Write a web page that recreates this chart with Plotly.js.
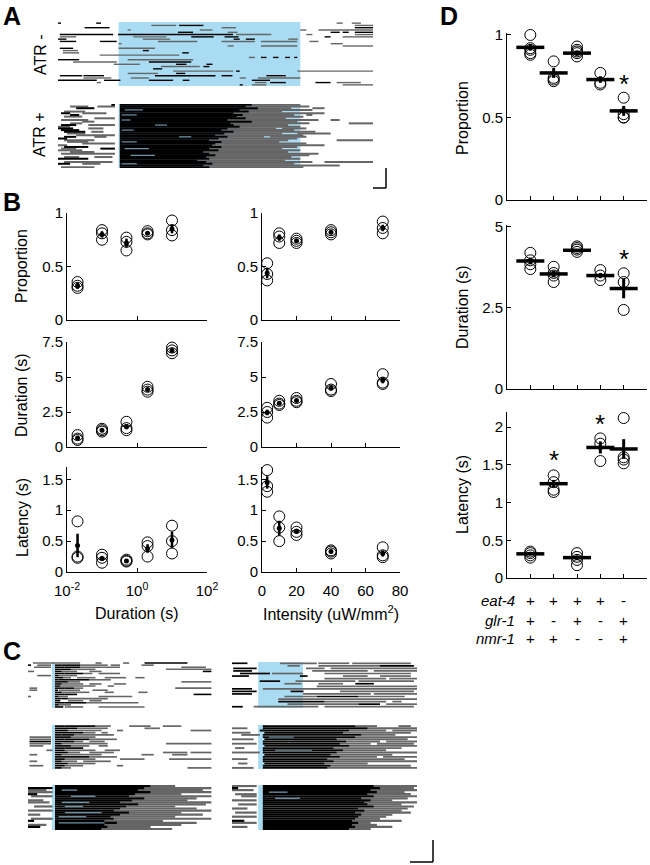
<!DOCTYPE html>
<html><head><meta charset="utf-8">
<script src="https://cdn.plot.ly/plotly-3.0.1.min.js"></script>
<style>html,body{margin:0;padding:0;background:#fff}#chart{width:650px;height:865px}</style>
</head><body><div id="chart"></div>
<script>
// ---------------- DATA ----------------
// Raster rows: segments "a-b" (black), "ga-b" (gray) or "la-b" (light streak), seconds from window start
const stimA = [10, 40];
const atrMinusRows = [
 "0-0.5 6.3-7.1 g46-47 g48.5-50",
 "g15.4-19.5 20-24 g49-52",
 "4.4-8.5 g27-29.4 49-52",
 "g11.5-12 g23.4-25.5 g40-41 g43-52",
 "19.8-22.3 g28-29.6 45-46.5 47-48 49-52",
 "0.3-9.1 9.9-28.9 g29.4-35.2 g41-42 g49-52",
 "g0.3-3 g12.4-17.9 22-25.7 27.5-29.8 44-45 g47-52",
 "0-1.4 g14-18.5 29-30 31-32.5 g38-39.6",
 "0.3-3 6.9-9.7 g16.5-23 g27-32.5 g33.5-39.5 g41.5-43",
 "g10-10.5 g45-47",
 "g28-29 g33.5-39.5 g47-52",
 "0.3-2.5 g10-16",
 "g0.8-3.3 14-15",
 "g0.8-3.5 20.5-21.6",
 "g6.9-20",
 "g31.5-32.5 33.5-34.4 35.5-36.4 37.5-38.3 39-39.5",
 "0-3.5 g11.5-22.3",
 "g2.5-9.7 15-22",
 "g9.2-13.5 19.5-21.2 24.5-25.5",
 "g17-23.4 24-25",
 "15.7-17.2",
 "g19-28.9 29.4-30 g39.5-52",
 "g11.5-16.5 19.5-21",
 "0.3-4 4.2-7.6 16-26 27-28.8 34.4-37.6",
 "g4.2-8.8 g12-15 g30-31 g33-40",
 "0-6.4 7.6-10.3 15-19 20.6-21.7 32-35",
 "g6.4-7.1 g32.5-34.4 35-37.6 42.5-45 g46-50",
 "30-30.5 g32-34.4 g47-52"
];
const atrPlusRows = [
 "8.8-9.4 10.2-32 g32-40",
 "g2-5 g6.5-9.4 10.2-31 g31-41.5",
 "3-6 10.2-33 g33-38.5 g42-44",
 "10.2-30 l11-14 g30-42",
 "g1-4.5 10.2-31.5 g31.5-37",
 "0.5-2 g4-8 10.2-29 g29-44",
 "2-3.5 10.2-30.5 l10.5-13 g30.5-39 g41-42",
 "g1-4 10.2-29.5 g29.5-40.5",
 "g6-9.4 10.2-31 g31-37.6",
 "g0.5-5 10.2-28 l10.5-12 g28-43 g45-46.5",
 "g4-6 10.2-32 g32-39.5",
 "g2-4 10.2-28.5 g28.5-41.5 g48-52",
 "0.5-3 g5-9.4 10.2-29 l16-18 g29-38",
 "g0-2 10.2-30 g30-40",
 "0-2.5 g5-7.5 10.2-28 g28-36 g37-41",
 "0.5-3.5 10.2-27 l10.5-12.5 g27-39",
 "1-4.5 g5.5-7.5 10.2-29 g29-42.5",
 "g1.5-4.5 10.2-27.5 g27.5-37 g39.5-45",
 "g3-9.4 10.2-26 g26-40.5",
 "1-3 g6-8 10.2-28 l20-22 g28-34 g35-41",
 "0-1.5 10.2-26.5 g26.5-39.5",
 "g1-6 10.2-25 g25-38 g46-52",
 "g1.5-5 10.2-27 l10.5-13 g27-36.5",
 "g4-9.4 10.2-26 g26-41",
 "g0-1.5 10.2-25.5 g25.5-44",
 "1-5 10.2-27 g27-39.5",
 "g0.5-3 7-9.4 10.2-25 l11-15 g25-37",
 "g0-4 10.2-26.5 g26.5-40",
 "g2-6 10.2-24 g24-38",
 "g0.5-9.4 10.2-25 g25-43",
 "10.2-26 l12-16 g26-41.5",
 "g1-3.5 g6-9 10.2-24.5 g24.5-38.5",
 "0-5 10.2-25 g25-40",
 "10.2-23 g23-37.5",
 "g1-9 10.2-24.5 g24.5-42 g44-52",
 "0-2 g4-7 10.2-25.5 l10.5-13 g25.5-39",
 "10.2-24 g24-46.5",
 "g0.5-6 10.2-25 g25-40.5"
];
const stimCLeft = [7.8, 8.8];
const stimCRight1 = [8.5, 23];
const stimCRight23 = [8.5, 10.7];
const cLeft1Rows = [
 "g1.6-17 g22-24 g31-33 38-52",
 "0-1 g3-7.5 8.8-11 11-17 g17-26 g27-30 g37-41",
 "g2-7.5 8.8-12 12-17 g17-30 g50-58",
 "8.8-10.5 10.5-14 g14-22 g45-59.8",
 "g0-2 8.8-11 g11-16 g20-24 57-59.8",
 "8.8-12 12-18 g18-21 g23-30",
 "g3-7.5 8.8-10 g10-16",
 "8.8-11.5 g11.5-14 g16-22 g25-32 g35-38",
 "8.8-10 10-20 g20-27",
 "8.8-13 g13-17 g50-59.8",
 "8.8-11 g11-18 g20-24 g28-32",
 "8.8-10.5 g10.5-22 g26-28",
 "g0.5-3 8.8-12 12-15 g15-18 g48-59.8",
 "g0.5-3 8.8-9.8 g10-17 g21-26",
 "8.8-11 g11-20 g25-28 g36-39",
 "8.8-12 12-16 54-59.8",
 "g0-1 8.8-10 g10-13 g23-34",
 "8.8-11 11-13 g13-26",
 "8.8-10.5 g13-18 g20-24",
 "8.8-12 12-19 g19-36",
 "8.8-10 g10-14",
 "8.8-11.5 g12-18 g23-38"
];
const cLeft2Rows = [
 "8.8-12 12-22 g22-27 g33-40 g44-50",
 "8.8-16 g16-26 g38-40 g40-43",
 "8.8-13 g13-24 g29-31 g53-59.8",
 "8.8-18 g18-22 g24-26",
 "8.8-11 11-15 g15-28",
 "g0.5-7.5 8.8-14 g14-22",
 "g0.5-7.5 8.8-12 12-20 g20-29",
 "0.5-7.5 8.8-15 g15-18 g20-25",
 "g0.5-7.5 8.8-11 g11-26 g45-59.8",
 "g0.5-5 8.8-14 g14-20 g23-26",
 "8.8-12 12-18",
 "g6-8 8.8-12 g12-22 g25-30",
 "8.8-13 g13-17 g20-28 g44-52 g53-59.8",
 "g0.5-3 8.8-11 g11-24 g37-41 g47-52",
 "8.8-14 14-20 g20-29",
 "8.8-12 g12-22 g30-38 g46-59.8",
 "g0.5-3 8.8-11 g11-16 g18-27",
 "8.8-13 g13-22",
 "g0.5-5 8.8-12 g12-18 g29-31",
 "8.8-11 g11-14 g52-59.8"
];
const cLeft3Rows = [
 "8.8-40 g40-48",
 "0-8 8.8-38 g38-59.8",
 "g0-6 8.8-36 l11-16 g36-57",
 "g0-8 8.8-40 g40-59.8",
 "0-3 8.8-35 g35-50",
 "g1-8 8.8-33 l14-22 g33-59.8",
 "8.8-38 g38-55",
 "g0-5 8.8-34 g34-52",
 "g0-7 8.8-30 l11-20 g30-59.8",
 "8.8-36 g36-58",
 "g2-8 8.8-32 l12-18 g32-48",
 "8.8-30 g30-55",
 "g0-8 8.8-28 g28-59.8",
 "8.8-33 l12-24 g33-50",
 "g0-4 8.8-30 g30-57",
 "8.8-27 l10-19 g27-48",
 "g1-8 8.8-28 g28-59.8",
 "0-2 8.8-25 g25-44",
 "8.8-29 l10-25 g29-55",
 "g0-6 8.8-25 g25-50",
 "0-4 8.8-26 g26-40",
 "8.8-24 g24-47"
];
const cRight1Rows = [
 "0-5 g15.6-27.5 g28-38 g39-58",
 "g18-22 g28-48 48-59",
 "0.4-8 g24-30 g32-60",
 "0.4-6.5 g26-44 g46-60",
 "2.6-12.3 g13-23 g30-58",
 "0-5.5 22-24.5 g36-44 g48-58",
 "g30-50 g51-60",
 "9-15.6 g20.6-40 g41-59",
 "g17-22.5 g28-36 40-46",
 "g27.5-40 g40-60",
 "0-6.5 g10-60",
 "0-8 19-23.2 g35-59",
 "0-6.5 g23-45 g46-60",
 "g17-27.5 27.5-41 g41-56",
 "g15-60",
 "15-30 g30-50 g52-55",
 "g18-41 41-48 g50-60",
 "0-3.5 g7-28 g30-59"
];
const cRight2Rows = [
 "10-40 g40-47 g54-58",
 "g0-5 10-44 g44-60",
 "9-38 g38-50 g52-60",
 "g0-6 10.5-36 g36-58",
 "g3-9 10-42 g42-53",
 "10-40 l12-20 g40-60",
 "g0-7 10.5-34 g34-57",
 "10-37 g37-48 g50-60",
 "g0-8 10-35 g35-45 g47-59",
 "10.5-38 g38-60",
 "g1-4 10-33 g33-55",
 "10-36 l14-26 g36-50",
 "g0-9 10-34 g34-60",
 "10.5-32 g32-52",
 "10-35 g35-47 g49-60",
 "g0-5 10-31 g31-56",
 "10-33 g33-60",
 "g2-5 10.5-30 g30-44",
 "10-32 g32-58",
 "g0-7 10-31 g31-60"
];
const cRight3Rows = [
 "g0-8 10-46 g46-60",
 "0-2 10-48 g48-59",
 "g0-7 10-45 g45-60",
 "10-47 l12-18 g47-56",
 "g1-8 10-44 g44-58",
 "g3-8 10-46 g46-60",
 "10-42 l14-22 g42-57",
 "g0-8 10-45 g45-52",
 "10-43 g43-60",
 "g2-8 10-44 g44-55",
 "10-46 g46-59",
 "g0-5 10-41 g41-57",
 "10-43 g43-55",
 "g1-8 10-40 g40-58",
 "10-42 g42-52",
 "g0-8 10-41 g41-50",
 "10-40 g40-48",
 "0-4 10-39 g39-55",
 "g0-8 10-41 g41-45",
 "10-39 g39-47",
 "g0-5 10-40 g40-52",
 "10-38 g38-45"
];

// Panel B
const stimDurations = [0.02, 0.1, 0.5, 2, 10];
const intensities = [3, 10, 20, 40, 70];
const propDurPts = [[0.355,0.30,0.32],[0.84,0.81,0.75],[0.77,0.73,0.65],[0.83,0.80,0.81],[0.93,0.84,0.79]];
const propDurMean = [0.32,0.80,0.72,0.81,0.85];
const propDurSem  = [0.03,0.03,0.04,0.015,0.04];
const durDurPts = [[0.85,0.6,0.5],[1.3,1.2,1.1],[1.8,1.35,1.2],[4.3,4.1,3.95],[7.1,6.9,6.7]];
const durDurMean = [0.65,1.2,1.45,4.1,6.9];
const durDurSem  = [0.1,0.06,0.18,0.1,0.12];
const latDurPts = [[0.82,0.23,0.25],[0.28,0.23,0.15],[0.2,0.18,0.17],[0.48,0.42,0.25],[0.75,0.5,0.3]];
const latDurMean = [0.43,0.22,0.18,0.38,0.52];
const latDurSem  = [0.19,0.04,0.01,0.07,0.13];
const propIntPts = [[0.53,0.43,0.37],[0.81,0.78,0.72],[0.76,0.74,0.72],[0.84,0.80,0.82],[0.92,0.86,0.81]];
const propIntMean = [0.44,0.77,0.74,0.82,0.86];
const propIntSem  = [0.05,0.03,0.01,0.01,0.03];
const durIntPts = [[2.8,2.5,2.1],[3.3,3.1,3.0],[3.5,3.3,3.2],[4.5,4.1,4.0],[5.2,4.6,4.5]];
const durIntMean = [2.47,3.13,3.33,4.2,4.77];
const durIntSem  = [0.2,0.09,0.09,0.15,0.22];
const latIntPts = [[1.65,1.39,1.3],[0.9,0.72,0.5],[0.72,0.65,0.6],[0.35,0.33,0.3],[0.4,0.27,0.24]];
const latIntMean = [1.45,0.71,0.66,0.33,0.3];
const latIntSem  = [0.1,0.12,0.04,0.015,0.05];

// Panel D
const genotypes = [1,2,3,4,5];
const eat4 = ['+','+','+','+','-'];
const glr1 = ['+','-','+','-','+'];
const nmr1 = ['+','+','-','-','+'];
const propGenPts = [[1.0,0.91,0.89,0.88,0.92],[0.84,0.74,0.73,0.72],[0.93,0.91,0.90,0.89,0.87],[0.77,0.71,0.70],[0.62,0.50,0.50,0.52]];
const propGenMean = [0.925,0.77,0.89,0.73,0.54];
const propGenSem  = [0.02,0.03,0.015,0.02,0.03];
const durGenPts = [[4.2,3.97,3.85,3.7],[3.77,3.58,3.3,3.5],[4.4,4.35,4.23,4.3],[3.67,3.36,3.5],[3.57,3.3,2.44]];
const durGenMean = [3.95,3.55,4.28,3.5,3.1];
const durGenSem  = [0.1,0.1,0.04,0.08,0.3];
const latGenPts = [[0.35,0.33,0.3,0.27],[1.36,1.27,1.17,1.14],[0.33,0.28,0.24,0.17],[1.85,1.78,1.55],[2.12,1.6,1.57,1.52]];
const latGenMean = [0.32,1.25,0.27,1.73,1.71];
const latGenSem  = [0.02,0.05,0.03,0.08,0.13];
const propStars = [null,null,null,null,0.74];
const durStars  = [null,null,null,null,4.2];
const latStars  = [null,1.65,null,2.12,2.38];

// ---------------- BUILD ----------------
const W = 650, H = 865;
const FONT = 'Liberation Sans, Arial, Helvetica, sans-serif';
const GRAY = '#666666', LIGHT = '#6f93a6', BLUE = '#a9dcf2';
const px = v => v / W, py = v => 1 - v / H;
const traces = [];
const layout = {
  width: W, height: H, margin: {l:0, r:0, t:0, b:0},
  paper_bgcolor: '#fff', plot_bgcolor: 'rgba(0,0,0,0)', showlegend: false,
  font: {family: FONT, color: '#000', size: 15},
  shapes: [], annotations: []
};

function rasterTraces(rows, ax, lw) {
  const seg = {k:{x:[],y:[]}, g:{x:[],y:[]}, l:{x:[],y:[]}};
  rows.forEach((r, i) => {
    r.trim().split(/\s+/).forEach(s => {
      if (!s) return;
      const c = (s[0] === 'g' || s[0] === 'l') ? s[0] : 'k';
      const [a, b] = (c === 'k' ? s : s.slice(1)).split('-').map(Number);
      seg[c].x.push(a, b, null);
      seg[c].y.push(i, i, null);
    });
  });
  const base = {type:'scatter', mode:'lines', xaxis:'x'+ax, yaxis:'y'+ax, hoverinfo:'skip'};
  traces.push(Object.assign({}, base, {x:seg.g.x, y:seg.g.y, line:{color:GRAY, width:lw}}));
  traces.push(Object.assign({}, base, {x:seg.k.x, y:seg.k.y, line:{color:'#000', width:lw}}));
  traces.push(Object.assign({}, base, {x:seg.l.x, y:seg.l.y, line:{color:LIGHT, width:lw * 0.6}}));
}
function axKey(n, c) { return c + 'axis' + (n === 1 ? '' : n); }
function ref(n, c) { return c + (n === 1 ? '' : n); }

function rasterPanel(n, rows, stim, xr, x0, x1, y0, y1, lw) {
  const k = n === 1 ? '' : n;
  layout[axKey(n,'x')] = {domain:[px(x0), px(x1)], range:xr, visible:false, fixedrange:true, anchor:ref(n,'y')};
  layout[axKey(n,'y')] = {domain:[py(y1), py(y0)], range:[rows.length - 0.5, -0.5], visible:false, fixedrange:true, anchor:ref(n,'x')};
  layout.shapes.push({type:'rect', xref:ref(n,'x'), yref:ref(n,'y')+' domain', x0:stim[0], x1:stim[1], y0:0, y1:1,
    fillcolor:BLUE, line:{width:0}, layer:'below'});
  rasterTraces(rows, k, lw);
}

// Panel A
rasterPanel(1, atrMinusRows, stimA, [0, 52], 58, 373, 22, 86, 1.4);
rasterPanel(2, atrPlusRows, stimA, [0, 52], 58, 373, 104, 168, 2.0);

// Panel C
rasterPanel(9,  cLeft1Rows,  stimCLeft,   [0, 60], 28, 212, 662, 708, 1.6);
rasterPanel(10, cLeft2Rows,  stimCLeft,   [0, 60], 28, 212, 725, 769, 1.7);
rasterPanel(11, cLeft3Rows,  stimCLeft,   [0, 60], 28, 212, 785, 830, 2.2);
rasterPanel(12, cRight1Rows, stimCRight1, [0, 60], 232, 417, 662, 708, 1.7);
rasterPanel(13, cRight2Rows, stimCRight23,[0, 60], 232, 417, 725, 769, 1.9);
rasterPanel(14, cRight3Rows, stimCRight23,[0, 60], 232, 417, 785, 830, 2.2);

// Axis styles
function lineAxis(extra) {
  return Object.assign({showline:true, linecolor:'#000', linewidth:1, ticks:'inside', ticklen:4,
    tickcolor:'#000', tickwidth:1, showgrid:false, zeroline:false, fixedrange:true,
    tickfont:{size:15, family:FONT, color:'#000'}}, extra);
}

function scatterPanel(n, xs, pts, mean, sem, meanStyle) {
  const X = [], Y = [];
  pts.forEach((col, i) => col.forEach(v => { X.push(xs[i]); Y.push(v); }));
  traces.push({type:'scatter', mode:'markers', x:X, y:Y, xaxis:ref(n,'x'), yaxis:ref(n,'y'), cliponaxis:false,
    marker:{symbol:'circle-open', size:11, color:'#000', line:{width:1, color:'#000'}}, hoverinfo:'skip'});
  if (meanStyle === 'B') {
    traces.push({type:'scatter', mode:'markers', x:xs, y:mean, xaxis:ref(n,'x'), yaxis:ref(n,'y'), cliponaxis:false,
      marker:{symbol:'circle', size:5, color:'#000'},
      error_y:{type:'data', array:sem, visible:true, color:'#000', thickness:2.5, width:0}, hoverinfo:'skip'});
  } else {
    traces.push({type:'scatter', mode:'markers', x:xs, y:mean, xaxis:ref(n,'x'), yaxis:ref(n,'y'), cliponaxis:false,
      marker:{symbol:'line-ew', size:20, color:'#000', line:{width:3.5, color:'#000'}},
      error_y:{type:'data', array:sem, visible:true, color:'#000', thickness:3, width:0}, hoverinfo:'skip'});
  }
}

// Panel B geometry
const bRows = [[213,320],[342,447],[467,572]];
const bLeftX = [67, 207], bRightX = [262, 400];
const bY = [
  {range:[0,1], tickvals:[0,0.5,1], ticktext:['0','0.5','1']},
  {range:[0,7.5], tickvals:[0,2.5,5,7.5], ticktext:['0','2.5','5','7.5']},
  {range:[0,1.7], tickvals:[0,0.5,1,1.5], ticktext:['0','0.5','1','1.5']}
];
const bLeftData = [[propDurPts,propDurMean,propDurSem],[durDurPts,durDurMean,durDurSem],[latDurPts,latDurMean,latDurSem]];
const bRightData = [[propIntPts,propIntMean,propIntSem],[durIntPts,durIntMean,durIntSem],[latIntPts,latIntMean,latIntSem]];
for (let r = 0; r < 3; r++) {
  const nL = 3 + r, nR = 6 + r;
  const yd = [py(bRows[r][1]), py(bRows[r][0])];
  layout[axKey(nL,'x')] = lineAxis({domain:[px(bLeftX[0]), px(bLeftX[1])], type:'log', range:[-2,2],
    tickvals:[0.01,1,100], ticktext:['10<sup>-2</sup>','10<sup>0</sup>','10<sup>2</sup>'],
    showticklabels: r === 2, ticklabelstandoff: 5, anchor:ref(nL,'y')});
  layout[axKey(nL,'y')] = lineAxis(Object.assign({domain:yd, anchor:ref(nL,'x'), tickmode:'array'}, bY[r]));
  layout[axKey(nR,'x')] = lineAxis({domain:[px(bRightX[0]), px(bRightX[1])], range:[0,80],
    tickvals:[0,20,40,60,80], showticklabels: r === 2, ticklabelstandoff: 5, anchor:ref(nR,'y')});
  layout[axKey(nR,'y')] = lineAxis(Object.assign({domain:yd, anchor:ref(nR,'x'), tickmode:'array'}, bY[r]));
  scatterPanel(nL, stimDurations, ...bLeftData[r], 'B');
  scatterPanel(nR, intensities, ...bRightData[r], 'B');
}

// Panel D geometry
const dRows = [[33,200],[225,389],[412,578]];
const dY = [
  {range:[0,1.012], tickvals:[0,0.5,1], ticktext:['0','0.5','1']},
  {range:[0,5.06], tickvals:[0,2.5,5], ticktext:['0','2.5','5']},
  {range:[0,2.2], tickvals:[0,0.5,1,1.5,2], ticktext:['0','0.5','1','1.5','2']}
];
const dData = [[propGenPts,propGenMean,propGenSem],[durGenPts,durGenMean,durGenSem],[latGenPts,latGenMean,latGenSem]];
const dStars = [propStars, durStars, latStars];
for (let r = 0; r < 3; r++) {
  const n = 15 + r;
  layout[axKey(n,'x')] = lineAxis({domain:[px(507), px(647)], range:[0,6], tickvals:genotypes,
    showticklabels:false, anchor:ref(n,'y')});
  layout[axKey(n,'y')] = lineAxis(Object.assign({domain:[py(dRows[r][1]), py(dRows[r][0])], anchor:ref(n,'x'), tickmode:'array'}, dY[r]));
  scatterPanel(n, genotypes, ...dData[r], 'D');
  dStars[r].forEach((v, i) => {
    if (v === null) return;
    layout.annotations.push({text:'*', x:genotypes[i], y:v, xref:ref(n,'x'), yref:ref(n,'y'), showarrow:false,
      font:{size:26, family:FONT}, xanchor:'center', yanchor:'middle', yshift:-6});
  });
}

// Genotype table
const gRows = [['eat-4', eat4, 600], ['glr-1', glr1, 620], ['nmr-1', nmr1, 638]];
gRows.forEach(([lab, signs, yy]) => {
  layout.annotations.push({text:'<i>'+lab+'</i>', x:px(517), y:py(yy), xref:'paper', yref:'paper', showarrow:false,
    xanchor:'right', yanchor:'middle', font:{size:15, family:FONT}});
  signs.forEach((s, i) => layout.annotations.push({text:s, x:genotypes[i], y:py(yy), xref:'x17', yref:'paper',
    showarrow:false, xanchor:'center', yanchor:'middle', font:{size:15, family:FONT}}));
});

// Text labels
function txt(t, x, y, size, angle, bold) {
  layout.annotations.push({text: bold ? '<b>'+t+'</b>' : t, x:px(x), y:py(y), xref:'paper', yref:'paper',
    showarrow:false, xanchor:'center', yanchor:'middle', textangle: angle || 0, font:{size:size, family:FONT}});
}
txt('A', 12, 16, 25, 0, true);
txt('B', 12, 202, 25, 0, true);
txt('C', 12, 651, 25, 0, true);
txt('D', 449, 16, 25, 0, true);
txt('ATR -', 40, 55, 16, -90);
txt('ATR +', 40, 135, 16, -90);
txt('Proportion', 22, 266, 16, -90);
txt('Duration (s)', 22, 395, 16, -90);
txt('Latency (s)', 22, 518, 16, -90);
txt('Duration (s)', 137, 613, 16, 0);
txt('Intensity (uW/mm<sup>2</sup>)', 331, 613, 16, 0);
txt('Proportion', 462, 118, 16, -90);
txt('Duration (s)', 462, 307, 16, -90);
txt('Latency (s)', 462, 495, 16, -90);

// Scale bars
function segLine(x0, y0, x1, y1) {
  layout.shapes.push({type:'line', xref:'paper', yref:'paper', x0:px(x0), y0:py(y0), x1:px(x1), y1:py(y1),
    line:{color:'#000', width:1.5}});
}
segLine(386, 168, 386, 188); segLine(373, 188, 386, 188);
segLine(433, 840, 433, 862); segLine(410, 862, 433, 862);

Plotly.newPlot('chart', traces, layout, {staticPlot:true, displayModeBar:false});
</script></body></html>
